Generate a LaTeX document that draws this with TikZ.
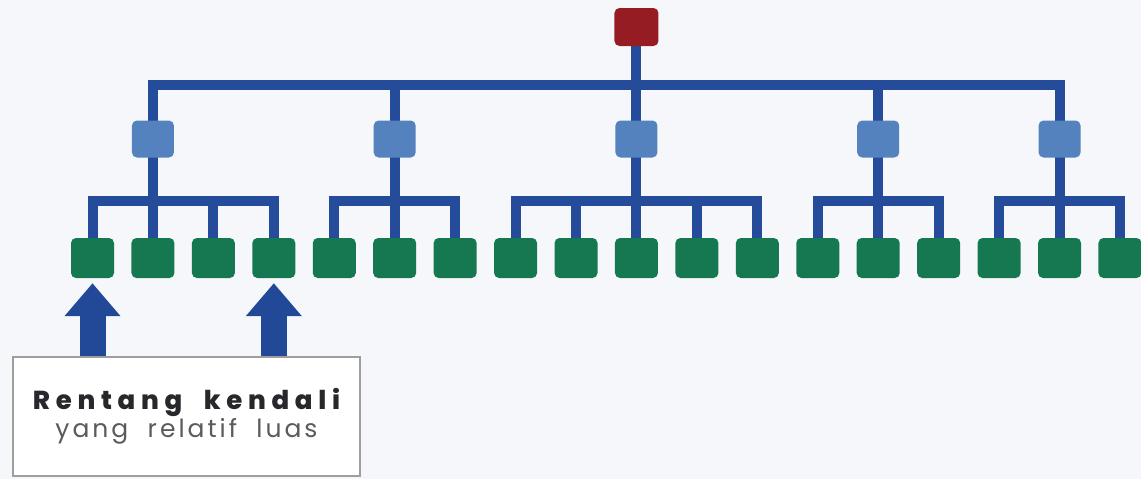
\documentclass[tikz,border=0pt]{standalone}
\usepackage{fontspec}
\setmainfont{Poppins}
\newfontfamily\labfontA{Poppins}[LetterSpace=22, BoldFont={* ExtraBold}]
\newfontfamily\labfontB{Poppins}[LetterSpace=12]
\usetikzlibrary{arrows.meta}
\definecolor{bgc}{RGB}{246,247,250}
\definecolor{linec}{RGB}{36,76,154}
\definecolor{midc}{RGB}{84,130,190}
\definecolor{greenc}{RGB}{22,120,80}
\definecolor{redc}{RGB}{150,28,36}
\definecolor{arrc}{RGB}{34,72,152}
\definecolor{tdark}{RGB}{40,40,44}
\definecolor{tgray}{RGB}{90,90,95}
\pgfdeclarelayer{bottom}
\pgfdeclarelayer{background}
\pgfsetlayers{bottom,background,main}
\tikzset{
  boxbase/.style={rectangle, rounded corners=5pt, inner sep=0pt},
  gbox/.style={boxbase, fill=greenc, minimum width=43pt, minimum height=40pt},
  mbox/.style={boxbase, fill=midc, minimum width=42pt, minimum height=37pt},
  rbox/.style={boxbase, fill=redc, minimum width=44pt, minimum height=38pt},
  conn/.style={draw=linec, line width=10pt},
  uparrow/.style={draw=arrc, line width=26pt, -{Triangle[width=54pt,length=33pt]}},
  labelbox/.style={rectangle, draw=black!38, line width=1.2pt, fill=white,
    minimum width=347pt, minimum height=119pt, inner sep=0pt, align=center}
}
\begin{document}
\begin{tikzpicture}[x=1pt,y=-1pt]
\useasboundingbox (0,0) rectangle (1141,479);
\begin{pgfonlayer}{bottom}
\fill[bgc] (0,0) rectangle (1141,479);
\end{pgfonlayer}
\coordinate (toprow) at (0,27);
\coordinate (bar) at (0,85);
\coordinate (midrow) at (0,139);
\coordinate (sub) at (0,201);
\foreach \i in {1,...,18} {
  \node[gbox] (g\i) at ({92.5+(\i-1)*60.44},258) {};
}
\node[mbox] (m1) at (g2 |- midrow) {};
\node[mbox] (m2) at (g6 |- midrow) {};
\node[mbox] (m3) at (g10 |- midrow) {};
\node[mbox] (m4) at (g14 |- midrow) {};
\node[mbox] (m5) at (g17 |- midrow) {};
\node[rbox] (top) at (g10 |- toprow) {};
\begin{pgfonlayer}{background}
  \draw[conn] (top.center) -- (m3.center);
  \draw[conn] (m1.center) -- (m1.center |- bar) -- (m5.center |- bar) -- (m5.center);
  \draw[conn] (m2.center) -- (m2.center |- bar);
  \draw[conn] (m4.center) -- (m4.center |- bar);
  % group 1
  \draw[conn] (g1.center) -- (g1.center |- sub) -- (g4.center |- sub) -- (g4.center);
  \draw[conn] (m1.center) -- (g2.center);
  \draw[conn] (g3.center) -- (g3.center |- sub);
  % group 2
  \draw[conn] (g5.center) -- (g5.center |- sub) -- (g7.center |- sub) -- (g7.center);
  \draw[conn] (m2.center) -- (g6.center);
  % group 3
  \draw[conn] (g8.center) -- (g8.center |- sub) -- (g12.center |- sub) -- (g12.center);
  \draw[conn] (m3.center) -- (g10.center);
  \draw[conn] (g9.center) -- (g9.center |- sub);
  \draw[conn] (g11.center) -- (g11.center |- sub);
  % group 4
  \draw[conn] (g13.center) -- (g13.center |- sub) -- (g15.center |- sub) -- (g15.center);
  \draw[conn] (m4.center) -- (g14.center);
  % group 5
  \draw[conn] (g16.center) -- (g16.center |- sub) -- (g18.center |- sub) -- (g18.center);
  \draw[conn] (m5.center) -- (g17.center);
\end{pgfonlayer}
\node[labelbox] (lbl) at (186.5,416.5) {{\labfontA\fontsize{26}{31}\selectfont\bfseries\color{tdark}Rentang\ \ kendali}\\[1pt]{\labfontB\fontsize{25}{31}\selectfont\color{tgray}yang\ \ relatif\ \ luas}};
\draw[uparrow] (lbl.north -| g1) -- ([yshift=-5pt]g1.south);
\draw[uparrow] (lbl.north -| g4) -- ([yshift=-5pt]g4.south);
\end{tikzpicture}
\end{document}
